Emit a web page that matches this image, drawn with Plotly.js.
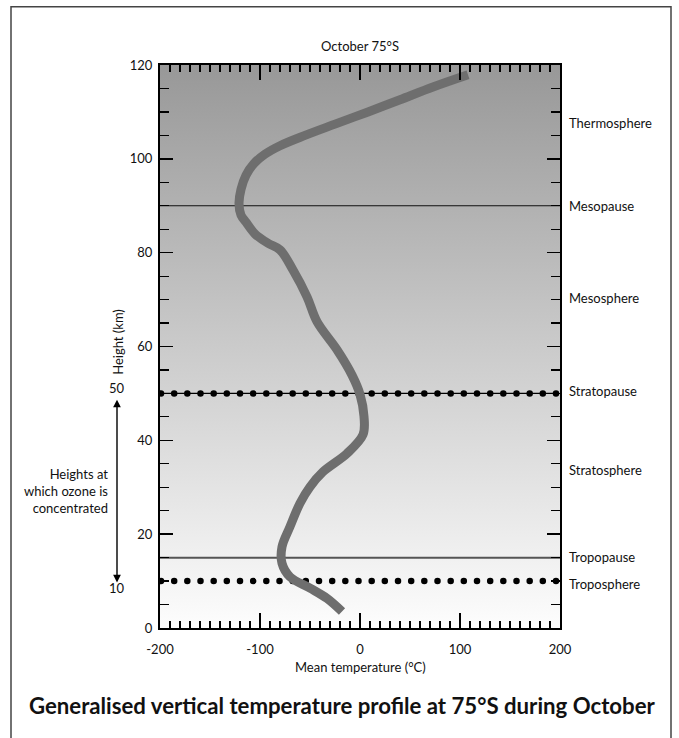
<!DOCTYPE html>
<html>
<head>
<meta charset="utf-8">
<script src="https://cdn.plot.ly/plotly-3.0.1.min.js"></script>
<style>
  html, body { margin: 0; padding: 0; background: #ffffff; }
  #chart { width: 679px; height: 738px; }
</style>
</head>
<body>
<div id="chart"></div>
<script>
// ---- Data ----
const profileTemp = [-18, -33, -50, -70, -78, -78, -70, -60, -50, -37, -13, 3, 4, 0, -8, -23, -43, -53, -67, -80, -92, -105, -114, -119, -121, -119, -114, -106, -95, -80, -55, -25, 8, 40, 73, 108];
const profileHeight = [3.5, 6.3, 8.5, 10.9, 13.8, 17.3, 21.6, 26.6, 30.1, 33.3, 37.2, 41.2, 45.1, 49.8, 53.9, 59.3, 65.3, 70.6, 76.3, 80.6, 82.0, 84.0, 86.5, 88.0, 90.5, 93.5, 96.5, 99.0, 101.0, 102.8, 105.0, 107.4, 110.0, 112.6, 115.3, 117.9];

const layerNames = ["Thermosphere", "Mesopause", "Mesosphere", "Stratopause", "Stratosphere", "Tropopause", "Troposphere"];
const layerLabelHeights = [107.7, 90, 70.4, 50.5, 33.7, 15.1, 9.4];

const solidLevels = [90, 15];           // mesopause, tropopause
const dottedLevels = [50, 10];          // ozone bounds (stratopause line, lower dotted)
const dotX = [-199, -185.8, -172.7, -159.5, -146.3, -133.2, -120, -106.8, -93.7, -80.5, -67.3, -54.2, -41, -27.8, -14.7, -1.5, 11.7, 24.8, 38, 51.2, 64.3, 77.5, 90.7, 103.8, 117, 130.2, 143.3, 156.5, 169.7, 182.8, 196];

const xTicks = [-200, -100, 0, 100, 200];
const yTicks = [0, 20, 40, 60, 80, 100, 120];
const xRange = [-200, 200];
const yRange = [0, 120];

const ozoneTop = 50, ozoneBottom = 10;

// ---- Styles ----
const FONT = "Lato, 'Open Sans', 'DejaVu Sans', sans-serif";
const traces = [];

// background gradient panel
traces.push({
  type: 'scatter', mode: 'lines',
  x: [xRange[0], xRange[1], xRange[1], xRange[0], xRange[0]],
  y: [yRange[0], yRange[0], yRange[1], yRange[1], yRange[0]],
  fill: 'toself',
  fillgradient: { type: 'vertical', start: yRange[0], stop: yRange[1],
    colorscale: [[0, '#fdfdfd'], [1, '#989898']] },
  line: { width: 0, color: 'rgba(0,0,0,0)' },
  hoverinfo: 'skip', showlegend: false
});

// solid level lines
solidLevels.forEach((lv, i) => {
  traces.push({
    type: 'scatter', mode: 'lines',
    x: xRange, y: [lv, lv],
    line: { color: i === 0 ? '#111111' : '#555555', width: i === 0 ? 1.2 : 2 },
    hoverinfo: 'skip', showlegend: false
  });
});

// dotted level lines
dottedLevels.forEach((lv, i) => {
  traces.push({
    type: 'scatter', mode: i === 0 ? 'lines+markers' : 'markers',
    x: dotX, y: dotX.map(() => lv),
    marker: { color: '#000000', size: 6.5 },
    line: { color: '#000000', width: 1.2 },
    hoverinfo: 'skip', showlegend: false
  });
});

// temperature profile
traces.push({
  type: 'scatter', mode: 'lines',
  x: profileTemp, y: profileHeight,
  line: { color: '#6e6e6e', width: 9, shape: 'spline', smoothing: 1 },
  hoverinfo: 'skip', showlegend: false
});

const txt = (extra) => Object.assign({ showarrow: false, xanchor: 'center', yanchor: 'middle' }, extra);
const annotations = [];
layerNames.forEach((name, i) => {
  annotations.push(txt({
    xref: 'paper', yref: 'y', x: 1.0175, y: layerLabelHeights[i],
    xanchor: 'left', text: name, font: { family: FONT, size: 13, color: '#111' }
  }));
});

// ozone arrow
annotations.push({
  xref: 'paper', yref: 'y', x: -0.1075, y: ozoneBottom - 0.3,
  ax: 0, ay: -(ozoneTop - ozoneBottom - 0.7) * 4.69, axref: 'pixel', ayref: 'pixel',
  showarrow: true, arrowside: 'end+start', arrowhead: 2, arrowsize: 1.1, arrowwidth: 1.4,
  arrowcolor: '#000', standoff: 0, startstandoff: 0, text: ''
});
annotations.push(txt({ xref: 'paper', yref: 'y', x: -0.1075, y: 51.2,
  text: String(ozoneTop), font: { family: FONT, size: 13, color: '#111' } }));
annotations.push(txt({ xref: 'paper', yref: 'y', x: -0.1075, y: 8.5,
  text: String(ozoneBottom), font: { family: FONT, size: 13, color: '#111' } }));
annotations.push(txt({ xref: 'paper', yref: 'y', x: -0.125, y: 29.3, xanchor: 'right', align: 'right',
  text: 'Heights at<br>which ozone is<br>concentrated',
  font: { family: FONT, size: 13, color: '#111' } }));

// axis title (y)
annotations.push(txt({ xref: 'paper', yref: 'y', x: -0.105, y: 61, textangle: -90,
  text: 'Height (km)', font: { family: FONT, size: 13, color: '#111' } }));
// top subtitle
annotations.push(txt({ xref: 'paper', yref: 'paper', x: 0.5, y: 1.0337,
  text: 'October 75°S', font: { family: FONT, size: 13, color: '#111' } }));
// x title
annotations.push(txt({ xref: 'paper', yref: 'paper', x: 0.5, y: -0.0693,
  text: 'Mean temperature (°C)', font: { family: FONT, size: 13, color: '#111' } }));
// main caption
annotations.push(txt({ xref: 'paper', yref: 'paper', x: 0.455, y: -0.1368,
  text: '<b>Generalised vertical temperature profile at 75°S during October</b>',
  font: { family: FONT, size: 22.2, color: '#111' } }));

const shapes = [{
  type: 'rect', xref: 'paper', yref: 'paper',
  x0: -0.3725, x1: 1.2775, y0: -0.21, y1: 1.1035,
  line: { color: '#444', width: 1.5 }, fillcolor: 'rgba(0,0,0,0)', layer: 'below'
}];

const layout = {
  width: 679, height: 738,
  margin: { l: 160, r: 119, t: 65, b: 110, pad: 0 },
  paper_bgcolor: '#ffffff', plot_bgcolor: 'rgba(0,0,0,0)',
  showlegend: false,
  font: { family: FONT, size: 13, color: '#111' },
  xaxis: {
    range: xRange, tickvals: xTicks, ticktext: xTicks.map(String),
    ticks: 'inside', ticklen: 15, tickwidth: 1.5, tickcolor: '#000',
    minor: { dtick: 10, tick0: 0, ticks: 'inside', ticklen: 7, tickwidth: 1.2, tickcolor: '#000' },
    showline: true, linecolor: '#000', linewidth: 2, mirror: 'ticks',
    showgrid: false, zeroline: false, ticklabelstandoff: 8,
    tickfont: { family: FONT, size: 13, color: '#111' }, fixedrange: true
  },
  yaxis: {
    range: yRange, tickvals: yTicks, ticktext: yTicks.map(String),
    ticks: 'inside', ticklen: 13, tickwidth: 1.5, tickcolor: '#000',
    minor: { dtick: 5, tick0: 0, ticks: 'inside', ticklen: 9, tickwidth: 1.2, tickcolor: '#000' },
    showline: true, linecolor: '#000', linewidth: 2, mirror: 'ticks',
    showgrid: false, zeroline: false, ticklabelstandoff: 3,
    tickfont: { family: FONT, size: 13, color: '#111' }, fixedrange: true
  },
  annotations: annotations,
  shapes: shapes
};

Plotly.newPlot('chart', traces, layout, { displayModeBar: false, staticPlot: true });
</script>
</body>
</html>
